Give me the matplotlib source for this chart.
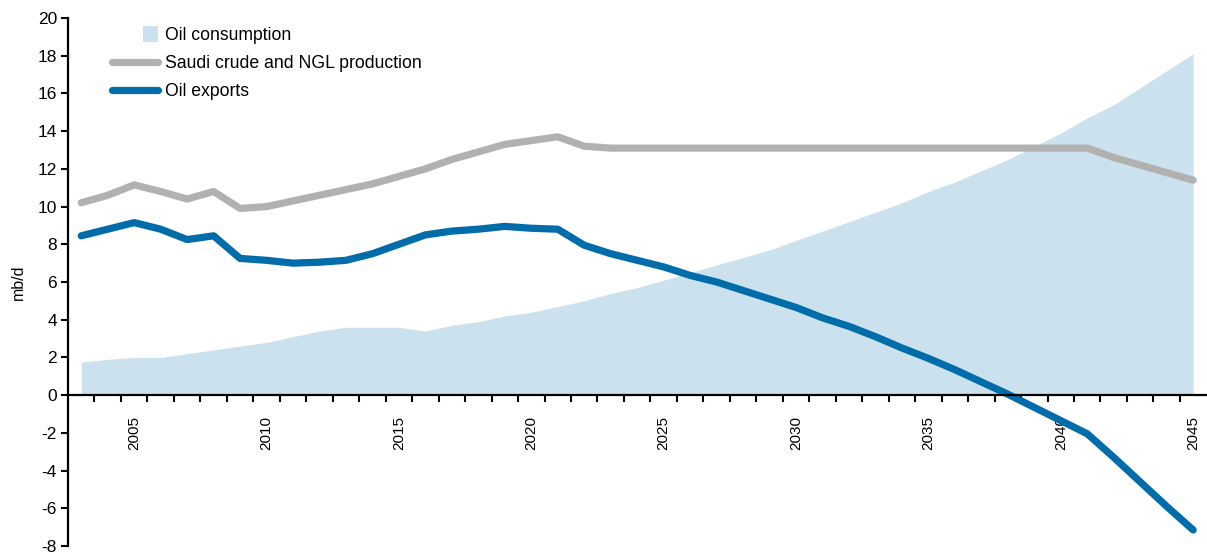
import matplotlib
matplotlib.use("Agg")
import matplotlib.pyplot as plt
import numpy as np
from matplotlib.patches import Rectangle
from matplotlib.legend_handler import HandlerPatch

years = list(range(2003, 2046))
consumption = [1.75, 1.9, 2.0, 2.0, 2.2, 2.4, 2.6, 2.8, 3.1, 3.4, 3.6, 3.6, 3.6, 3.4,
               3.7, 3.9, 4.2, 4.4, 4.7, 5.0, 5.4, 5.7, 6.1, 6.5, 6.9, 7.3, 7.7, 8.2,
               8.7, 9.2, 9.7, 10.2, 10.8, 11.3, 11.9, 12.5, 13.2, 13.9, 14.7, 15.4,
               16.3, 17.2, 18.1]
production = [10.2, 10.6, 11.15, 10.8, 10.4, 10.8, 9.9, 10.0, 10.3, 10.6, 10.9, 11.2,
              11.6, 12.0, 12.5, 12.9, 13.3, 13.5, 13.7, 13.2, 13.1, 13.1, 13.1, 13.1,
              13.1, 13.1, 13.1, 13.1, 13.1, 13.1, 13.1, 13.1, 13.1, 13.1, 13.1, 13.1,
              13.1, 13.1, 13.1, 12.6, 12.2, 11.8, 11.4]
exports = [8.45, 8.8, 9.15, 8.8, 8.25, 8.45, 7.25, 7.15, 7.0, 7.05, 7.15, 7.5, 8.0,
           8.5, 8.7, 8.8, 8.95, 8.85, 8.8, 7.95, 7.5, 7.15, 6.8, 6.35, 6.0, 5.55,
           5.1, 4.65, 4.1, 3.65, 3.1, 2.5, 1.95, 1.35, 0.7, 0.05, -0.65, -1.35,
           -2.05, -3.3, -4.6, -5.9, -7.15]
xlabels = [2005, 2010, 2015, 2020, 2025, 2030, 2035, 2040, 2045]
yticks = list(range(-8, 21, 2))

plt.rcParams['font.family'] = ['Liberation Sans', 'DejaVu Sans']

fig = plt.figure(figsize=(12.07, 5.54), dpi=100)
ax = fig.add_axes([68/1207, 1-546/554, 1-68/1207-0.0005, (546-18)/554])

c_area = '#cce1ee'
c_gray = '#b1b1b1'
c_blue = '#006daa'

ax.fill_between(years, 0, consumption, color=c_area, lw=0)
l1, = ax.plot(years, production, color=c_gray, lw=5.2, solid_capstyle='round',
              solid_joinstyle='round')
l2, = ax.plot(years, exports, color=c_blue, lw=5.2, solid_capstyle='round',
              solid_joinstyle='round')
area_proxy = Rectangle((0, 0), 1, 1, facecolor=c_area, edgecolor='none')

ax.set_xlim(2002.5, 2045.5)
ax.set_ylim(-8, 20)
ax.spines['top'].set_visible(False)
ax.spines['right'].set_visible(False)
ax.spines['bottom'].set_position(('data', 0))
ax.spines['bottom'].set_linewidth(1.6)
ax.spines['left'].set_linewidth(1.6)

ax.set_xticks(xlabels)
ax.set_xticklabels([str(v) for v in xlabels], rotation=90, fontsize=11)
ax.set_xticks(np.arange(2003.5, 2045, 1), minor=True)
ax.tick_params(axis='x', which='major', length=0, pad=15)
ax.tick_params(axis='x', which='minor', length=5, width=1.5, direction='out')
ax.set_yticks(yticks)
ax.set_yticklabels([str(v) for v in yticks], fontsize=12.5)
ax.tick_params(axis='y', length=5, width=1.5, direction='out', pad=3)
ax.set_ylabel('mb/d', fontsize=11.5)
ax.yaxis.set_label_coords(-0.037, 0.5)


def square_patch(legend, orig_handle, xdescent, ydescent, width, height, fontsize):
    s = 11.5
    return Rectangle((width - s + 0.5, (height - s) / 2), s, s)

leg = ax.legend([area_proxy, l1, l2],
                ['Oil consumption', 'Saudi crude and NGL production', 'Oil exports'],
                loc='upper left', bbox_to_anchor=(0.0386, 0.983),
                frameon=False, fontsize=12.7, handlelength=2.6, handletextpad=0.4,
                labelspacing=0.62, borderpad=0, borderaxespad=0,
                handler_map={Rectangle: HandlerPatch(patch_func=square_patch)})

fig.savefig('out.png', dpi=100)
